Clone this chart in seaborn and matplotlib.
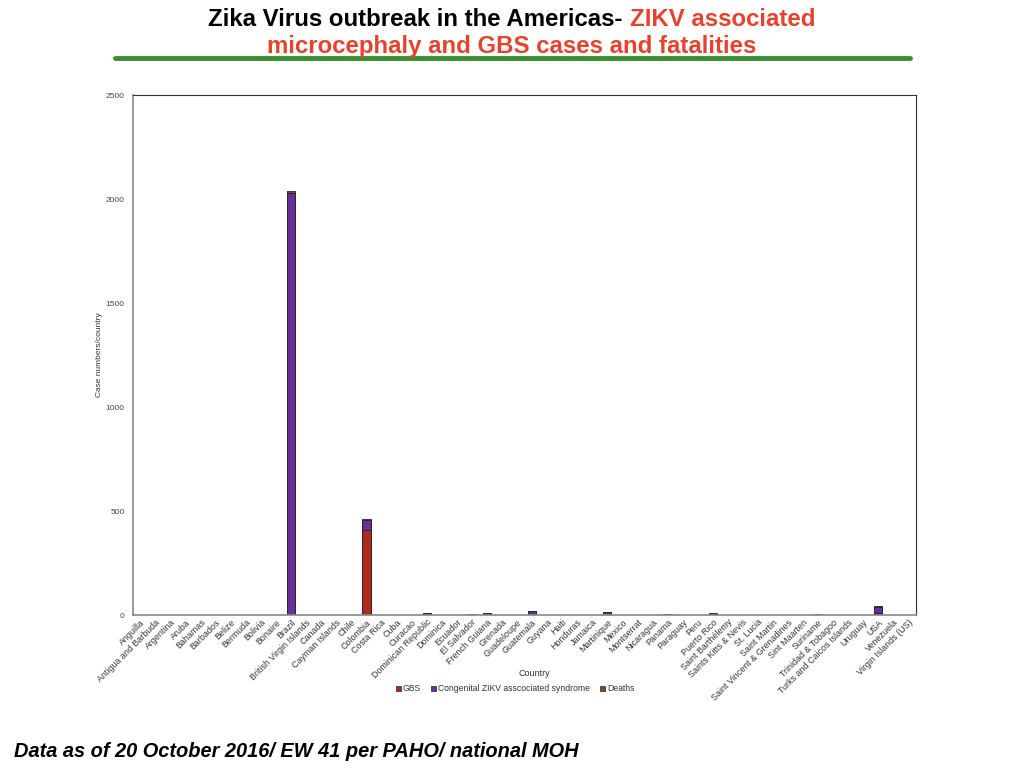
import matplotlib
matplotlib.use("Agg")
import matplotlib.pyplot as plt
from matplotlib import font_manager
from matplotlib.patches import Patch
import seaborn as sns
import pandas as pd
import numpy as np

countries = ["Anguilla", "Antigua and Barbuda", "Argentina", "Aruba", "Bahamas", "Barbados",
             "Belize", "Bermuda", "Bolivia", "Bonaire", "Brazil", "British Virgin Islands",
             "Canada", "Cayman Islands", "Chile", "Colombia", "Costa Rica", "Cuba", "Curacao",
             "Dominican Republic", "Dominica", "Ecuador", "El Salvador", "French Guiana",
             "Grenada", "Guadeloupe", "Guatemala", "Guyana", "Haiti", "Honduras", "Jamaica",
             "Martinique", "Mexico", "Montserrat", "Nicaragua", "Panama", "Paraguay", "Peru",
             "Puerto Rico", "Saint Barthélemy", "Saints Kitts & Nevis", "St. Lucia",
             "Saint Martin", "Saint Vincent & Grenadines", "Sint Maarten", "Suriname",
             "Trinidad & Tobagoo", "Turks and Caicos Islands", "Uruguay", "USA", "Venezuela",
             "Virgin Islands (US)"]

gbs = [0, 0, 0, 0, 0, 0, 0, 0, 0, 0, 0, 0,
       0, 0, 0, 410, 0, 0, 0,
       0, 0, 0, 0, 0,
       0, 0, 0, 0, 0, 0, 0,
       0, 0, 0, 0, 0, 0, 0,
       0, 0, 0, 0, 0, 0, 0, 0,
       0, 0, 0, 12, 0, 0]
congenital = [0, 0, 0, 0, 0, 0, 0, 0, 0, 0, 2030, 0,
              1, 0, 0, 48, 1, 0, 0,
              11, 0, 0, 0, 11,
              0, 0, 17, 0, 1, 1, 0,
              13, 1, 0, 0, 1, 1, 1,
              3, 0, 0, 0, 0, 0, 1, 1,
              0, 0, 0, 25, 0, 0]
deaths = [0, 0, 0, 0, 0, 0, 0, 0, 0, 0, 10, 0,
          0, 0, 0, 3, 0, 0, 0,
          1, 0, 0, 4, 1,
          0, 0, 1, 0, 0, 0, 0,
          1, 0, 0, 0, 5, 0, 0,
          5, 0, 0, 0, 0, 0, 0, 5,
          0, 0, 0, 7, 0, 0]

df = pd.DataFrame({"Country": countries, "GBS": gbs,
                   "Congenital": congenital, "Deaths": deaths})
df["lvl1"] = df["GBS"]
df["lvl2"] = df["GBS"] + df["Congenital"]
df["lvl3"] = df["lvl2"] + df["Deaths"]

available = {f.name for f in font_manager.fontManager.ttflist}
narrow = "Liberation Sans Narrow" if "Liberation Sans Narrow" in available else "Liberation Sans"
title_size = 16 if narrow == "Liberation Sans Narrow" else 17.3

sns.set_theme(style="white")
plt.rcParams["font.family"] = ["Liberation Sans", "DejaVu Sans"]

c_gbs = "#B0291F"
c_cong = "#6B2F9C"
c_death = "#7B4A2A"

fig = plt.figure(figsize=(10.24, 7.68), dpi=100)
ax = fig.add_axes([0.130, 0.1992, 0.7645, 0.6771])

common = dict(data=df, x="Country", order=countries, width=0.55,
              edgecolor="#222222", linewidth=0.6, ax=ax)
sns.barplot(y="lvl3", color=c_death, saturation=1, **common)
sns.barplot(y="lvl2", color=c_cong, saturation=1, **common)
sns.barplot(y="lvl1", color=c_gbs, saturation=1, **common)

ax.set_ylim(0, 2500)
ax.set_xlim(-0.5, len(countries) - 0.5)
ax.set_yticks([0, 500, 1000, 1500, 2000, 2500])
ax.tick_params(axis="y", labelsize=6, colors="#444444", length=0, pad=6)
ax.tick_params(axis="x", labelsize=6.4, colors="#333333", length=0, pad=2)
plt.setp(ax.get_xticklabels(), rotation=45, ha="right", rotation_mode="anchor")
ax.set_xlabel("Country", fontsize=6.5, color="#333333")
ax.xaxis.set_label_coords(0.513, -0.104)
ax.set_ylabel("Case numbers/country", fontsize=6, color="#333333")
ax.yaxis.set_label_coords(-0.038, 0.5)
for s in ["top", "right"]:
    ax.spines[s].set_color("#333333")
    ax.spines[s].set_linewidth(0.8)
for s in ["left", "bottom"]:
    ax.spines[s].set_color("#888888")
    ax.spines[s].set_linewidth(1.2)

handles = [Patch(facecolor=c_gbs, edgecolor="#222222", linewidth=0.5, label="GBS"),
           Patch(facecolor=c_cong, edgecolor="#222222", linewidth=0.5,
                 label="Congenital ZIKV asscociated syndrome"),
           Patch(facecolor=c_death, edgecolor="#222222", linewidth=0.5, label="Deaths")]
fig.legend(handles=handles, loc="center", bbox_to_anchor=(0.503, 0.103), ncol=3,
           frameon=False, fontsize=6.2, handlelength=0.6, handleheight=0.6,
           handletextpad=0.2, columnspacing=1.2, labelcolor="#333333")

# Title
t1a = fig.text(0.2035, 0.975, "Zika Virus outbreak in the Americas- ", fontsize=title_size,
               fontweight="bold", color="black", family=[narrow, "DejaVu Sans"],
               va="center", ha="left")
fig.canvas.draw()
bb = t1a.get_window_extent()
x_end = bb.x1 / fig.bbox.width
fig.text(x_end, 0.975, "ZIKV associated", fontsize=title_size, fontweight="bold",
         color="#E4432D", family=[narrow, "DejaVu Sans"], va="center", ha="left")
fig.text(0.5, 0.939, "microcephaly and GBS cases and fatalities", fontsize=title_size,
         fontweight="bold", color="#E4432D", family=[narrow, "DejaVu Sans"],
         va="center", ha="center")
fig.add_artist(plt.Line2D([0.112, 0.889], [0.925, 0.925], transform=fig.transFigure,
                          color="#3A8E2F", linewidth=3.5))

fig.text(0.014, 0.021, "Data as of 20 October 2016/ EW 41 per PAHO/ national MOH",
         fontsize=14.4, fontweight="bold", fontstyle="italic", color="black",
         va="center", ha="left")

fig.savefig("out.png", dpi=100)
